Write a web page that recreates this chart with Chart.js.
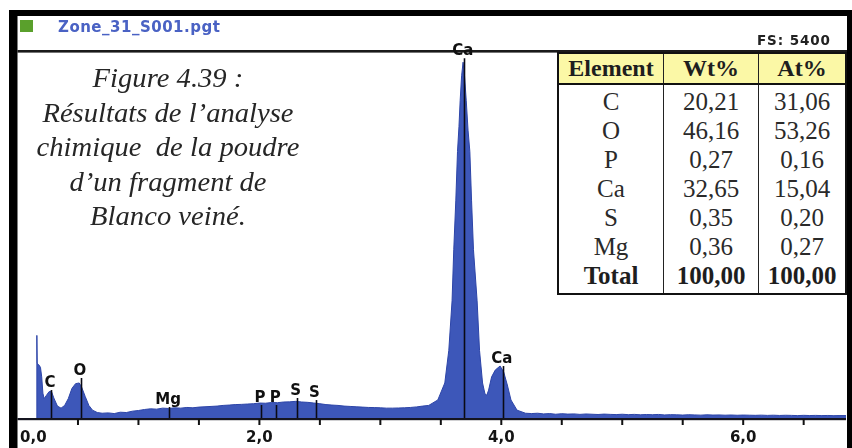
<!DOCTYPE html>
<html>
<head>
<meta charset="utf-8">
<script src="https://cdn.jsdelivr.net/npm/chart.js@4.4.0/dist/chart.umd.min.js"></script>
<style>
  html, body { margin: 0; padding: 0; background: #fff; }
  #wrap { position: relative; width: 852px; height: 448px; overflow: hidden; background: #fff; }
  #c { position: absolute; left: 0; top: 0; }
  #sq { position: absolute; left: 20px; top: 20px; width: 13px; height: 12px; background: #5aa02c; }
  #title { position: absolute; left: 58px; top: 17px; font: bold 15px "DejaVu Sans", sans-serif; color: #4a62c4; line-height: 20px; letter-spacing: 0.5px; white-space: nowrap; }
  #fs { position: absolute; left: 757px; top: 32px; font: bold 13.5px "DejaVu Sans", sans-serif; color: #222; line-height: 16px; letter-spacing: 0.9px; white-space: nowrap; }
  #caption { position: absolute; left: 18px; top: 61px; width: 300px; text-align: center;
             font: italic 27px "Liberation Serif", "Times New Roman", serif; line-height: 34.5px; color: #262626;
             transform: scaleX(1.06); transform-origin: 150px 0; white-space: nowrap; }
  #tbl { position: absolute; left: 557px; top: 52px; border-collapse: collapse; background: #fff;
         border: 2px solid #111; font-family: "Liberation Serif", "Times New Roman", serif; color: #2a2a2a; }
  #tbl th { background: #fbf8a6; font-weight: bold; font-size: 24px; height: 29px; padding: 0; color: #1e1e1e;
            border-left: 1px solid #222; border-bottom: 2px solid #111; text-align: center; }
  #tbl td { font-size: 25px; height: 29px; line-height: 29px; padding: 0; text-align: center; border-left: 1px solid #222; }
  #tbl tr.first td { padding-top: 2px; }
  #tbl tr.last td { font-weight: bold; padding-bottom: 3px; color: #1e1e1e; }
</style>
</head>
<body>
<div id="wrap">
  <canvas id="c" width="852" height="448"></canvas>
  <div id="sq"></div>
  <div id="title">Zone_31_S001.pgt</div>
  <div id="fs">FS: 5400</div>
  <div id="caption">Figure 4.39 :<br>Résultats de l’analyse<br>chimique &nbsp;de la poudre<br>d’un fragment de<br>Blanco veiné.</div>
  <table id="tbl"></table>
</div>
<script>
// ---------- spectrum data (energy in keV, counts) ----------
const energyLow = [0.150,0.158,0.160,0.163,0.175,0.190,0.200,0.210,0.220,0.240,
                   0.260,0.280,0.300,0.330,0.360,0.390,0.420,0.450,0.480,0.510,
                   0.530,0.560,0.590,0.620,0.660,0.700];
const countsLow = [0,0,1230,820,800,760,620,380,300,350,
                   400,410,310,190,160,200,300,450,520,530,
                   470,330,200,130,95,85];

const energyMid = [0.75,0.80,0.85,0.90,0.95,1.00,1.05,1.10,1.15,1.20,
                   1.25,1.30,1.35,1.40,1.45,1.50,1.55,1.60,1.65,1.70,
                   1.75,1.80,1.85,1.90,1.95,2.00,2.05,2.10,2.15,2.20,
                   2.25,2.30,2.35,2.40,2.45,2.50,2.55,2.60,2.65,2.70,
                   2.75,2.80,2.85,2.90,2.95,3.00,3.05,3.10,3.15,3.20,
                   3.25,3.30,3.35];
const countsMid = [90,80,100,95,115,125,140,150,145,160,
                   155,165,160,170,165,175,180,185,190,200,
                   205,212,215,220,225,235,232,242,240,250,
                   252,260,250,245,235,225,212,205,200,190,
                   185,180,175,170,168,165,160,160,162,165,
                   170,178,190];

const energyCa = [3.400,3.475,3.533,3.566,3.593,3.607,3.624,3.638,3.650,3.660,
                  3.672,3.684,3.696,3.710,3.725,3.740,3.754,3.770,3.800,3.820,
                  3.845,3.865,3.880,3.895,3.920,3.950,3.990,4.020,4.050,4.080,
                  4.130,4.200];
const countsCa = [200,280,530,1010,1740,2490,3220,3935,4300,4690,
                  5050,5250,5050,4690,4250,3935,3220,2490,1740,1010,
                  530,370,350,425,620,720,780,690,500,280,
                  130,85];

const energyHigh = [4.25,4.30,4.35,4.40,4.45,4.50,4.55,4.60,4.65,4.70,
                    4.75,4.80,4.85,4.90,4.95,5.00,5.05,5.10,5.15,5.20,
                    5.25,5.30,5.35,5.40,5.45,5.50,5.55,5.60,5.65,5.70,
                    5.75,5.80,5.85,5.90,5.95,6.00,6.05,6.10,6.15,6.20,
                    6.25,6.30,6.35,6.40,6.45,6.50,6.55,6.60,6.65,6.70,
                    6.75,6.80,6.85];
const countsHigh = [80,85,75,80,70,78,72,75,68,74,
                    70,66,72,68,65,70,64,68,62,66,
                    63,67,60,64,62,58,63,60,57,62,
                    58,60,56,59,55,58,56,54,57,53,
                    56,52,55,53,50,54,51,53,50,52,
                    49,51,50];

// ---------- element markers ----------
const markerLabels   = ['C','O','Mg','P','P','S','S','Ca','Ca'];
const markerEnergies = [0.277,0.525,1.254,2.013,2.139,2.307,2.464,3.690,4.012];
const markerTops     = [426,603,176,206,206,309,279,5307,779];

// ---------- axis ----------
const fullScale = 5400;
const energyMax = 6.85;
const tickValues = [0.5,1.0,1.5,2.0,2.5,3.0,3.5,4.0,4.5,5.0,5.5,6.0,6.5];
const tickLabelValues = [0,2,4,6];
const tickLabels = ['0,0','2,0','4,0','6,0'];

// ---------- quantification table ----------
const tableHeader = ['Element','Wt%','At%'];
const tableElements = ['C','O','P','Ca','S','Mg','Total'];
const tableWt = ['20,21','46,16','0,27','32,65','0,35','0,36','100,00'];
const tableAt = ['31,06','53,26','0,16','15,04','0,20','0,27','100,00'];

// build table
(function(){
  const t = document.getElementById('tbl');
  const colW = [104, 94, 86];
  let h = '<tr>' + tableHeader.map((s,i)=>'<th style="width:'+colW[i]+'px">'+s+'</th>').join('') + '</tr>';
  tableElements.forEach((el,i)=>{
    const cls = i===0 ? 'first' : (i===tableElements.length-1 ? 'last' : '');
    h += '<tr class="'+cls+'"><td>'+el+'</td><td>'+tableWt[i]+'</td><td>'+tableAt[i]+'</td></tr>';
  });
  t.innerHTML = h;
})();

const energy = [...energyLow, ...energyMid, ...energyCa, ...energyHigh];
const counts = [...countsLow, ...countsMid, ...countsCa, ...countsHigh];
const points = energy.map((e,i)=>({x:e, y:counts[i]}));

const framePlugin = {
  id: 'frame',
  afterDatasetsDraw(chart) {
    const ctx = chart.ctx;
    const xs = chart.scales.x, ys = chart.scales.y;
    const ca = chart.chartArea;
    ctx.save();
    // marker lines
    ctx.strokeStyle = '#0a0a14';
    ctx.lineWidth = 1.6;
    markerEnergies.forEach((e,i)=>{
      const px = Math.round(xs.getPixelForValue(e)) + 0.5;
      ctx.beginPath();
      ctx.moveTo(px, ys.getPixelForValue(0));
      ctx.lineTo(px, ys.getPixelForValue(markerTops[i]));
      ctx.stroke();
    });
    // axis line
    const y0 = ys.getPixelForValue(0);
    ctx.fillStyle = '#151520';
    ctx.fillRect(ca.left, y0 - 1, ca.right - ca.left, 2.2);
    // ticks
    ctx.fillStyle = '#111';
    tickValues.forEach(v=>{
      const px = xs.getPixelForValue(v);
      ctx.fillRect(px - 1, y0, 2, 6);
    });
    // tick labels
    ctx.font = 'bold 15px "DejaVu Sans", sans-serif';
    ctx.textBaseline = 'middle';
    ctx.fillStyle = '#141414';
    tickLabelValues.forEach((v,i)=>{
      const px = xs.getPixelForValue(v);
      if (v === 0) { ctx.textAlign = 'left'; ctx.fillText(tickLabels[i], px + 2.5, y0 + 19); }
      else { ctx.textAlign = 'center'; ctx.fillText(tickLabels[i], px, y0 + 19); }
    });
    // top separator line
    ctx.fillStyle = '#1a1a1a';
    ctx.fillRect(ca.left, ca.top - 2, ca.right - ca.left + 2, 2.6);
    // frame bars
    ctx.fillStyle = '#000';
    ctx.fillRect(9, 10, 8.5, 438);
    ctx.fillRect(9, 10, 843, 6);
    ctx.fillRect(847, 10, 5, 438);
    // marker labels
    ctx.font = 'bold 15px "DejaVu Sans", sans-serif';
    ctx.textAlign = 'center';
    ctx.textBaseline = 'middle';
    ctx.fillStyle = '#101010';
    markerEnergies.forEach((e,i)=>{
      const px = xs.getPixelForValue(e);
      const py = ys.getPixelForValue(markerTops[i]) - 7;
      ctx.fillText(markerLabels[i], px - 1, py);
    });
    ctx.restore();
  }
};

new Chart(document.getElementById('c'), {
  type: 'line',
  data: {
    datasets: [{
      data: points,
      borderColor: '#2d45a8',
      borderWidth: 1,
      backgroundColor: '#3d57b9',
      fill: 'origin',
      pointRadius: 0,
      tension: 0
    }]
  },
  options: {
    responsive: false,
    animation: false,
    events: [],
    layout: { padding: { left: 17.5, right: 6, top: 52, bottom: 29 } },
    plugins: { legend: { display: false }, tooltip: { enabled: false } },
    scales: {
      x: { type: 'linear', min: 0, max: energyMax, display: false },
      y: { min: 0, max: fullScale, display: false }
    }
  },
  plugins: [framePlugin]
});
</script>
</body>
</html>
